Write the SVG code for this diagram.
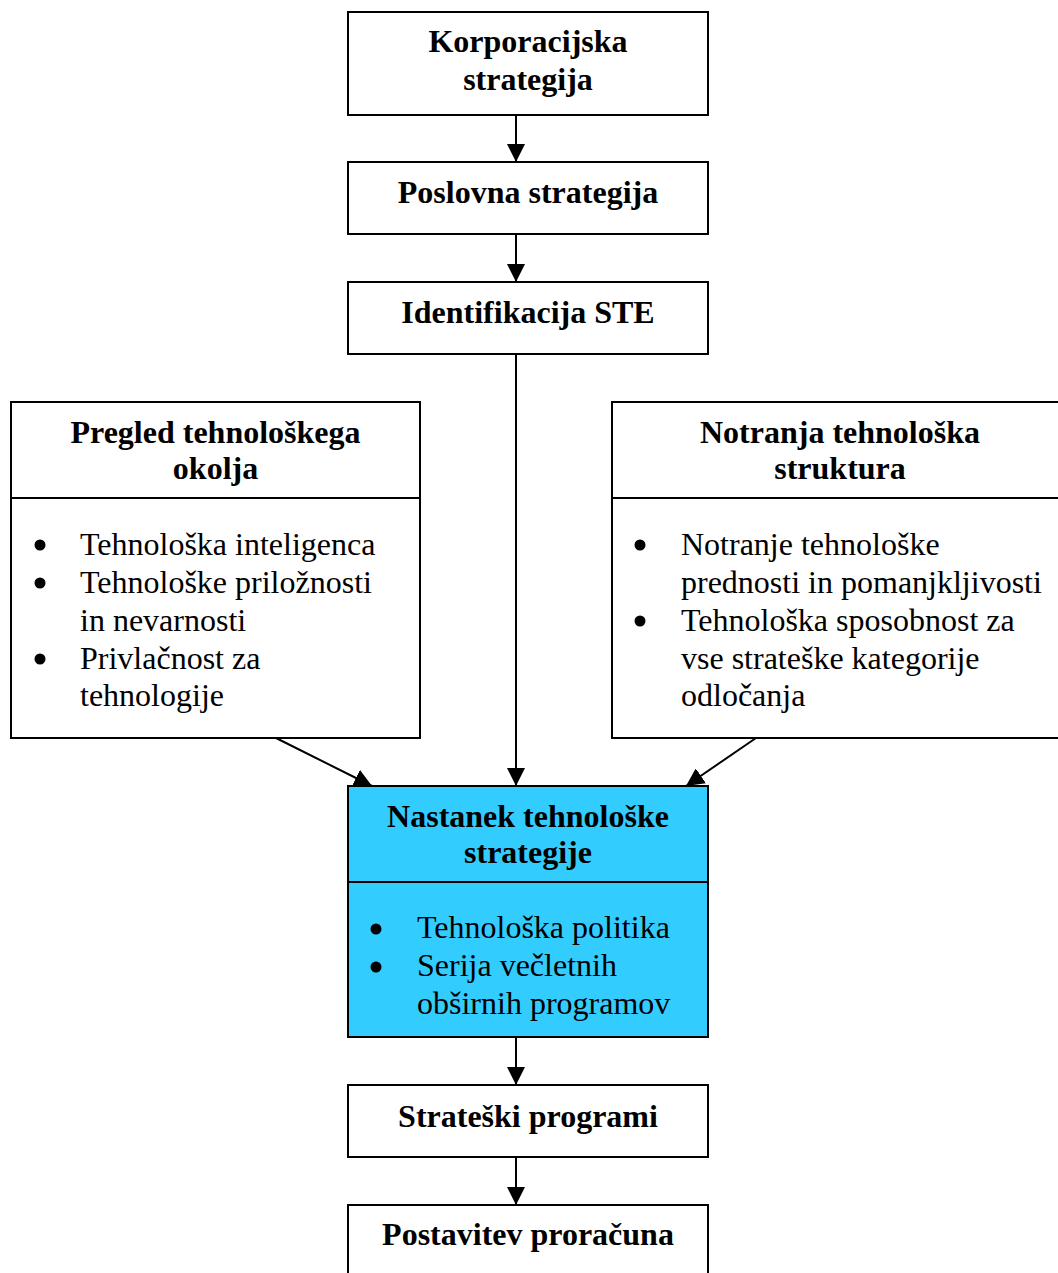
<svg xmlns="http://www.w3.org/2000/svg" width="1058" height="1273" viewBox="0 0 1058 1273">
  <style>
    .box { fill: #ffffff; stroke: #000000; stroke-width: 2; }
    .hl { fill: #33ccff; stroke: #000000; stroke-width: 2; }
    .div { stroke: #000000; stroke-width: 2; fill: none; }
    text { font-family: 'Liberation Serif', 'DejaVu Serif', serif; font-size: 32px; fill: #000000; }
    .b { font-weight: bold; text-anchor: middle; }
    .dot { fill: #000000; }
    .edge { stroke: #000000; stroke-width: 2; fill: none; marker-end: url(#arrow); }
  </style>
  <defs>
    <marker id="arrow" markerUnits="userSpaceOnUse" markerWidth="18" markerHeight="18" viewBox="0 0 16 16" refX="16" refY="8" orient="auto">
      <path d="M0,0 L16,8 L0,16 Z" fill="#000000"/>
    </marker>
  </defs>

  <g id="connectors">
    <line class="edge" x1="516" y1="115" x2="516" y2="162"/>
    <line class="edge" x1="516" y1="234" x2="516" y2="282"/>
    <line class="edge" x1="516" y1="354" x2="516" y2="786"/>
    <line class="edge" x1="276" y1="738" x2="372" y2="786"/>
    <line class="edge" x1="756" y1="738" x2="686" y2="786"/>
    <line class="edge" x1="516" y1="1037" x2="516" y2="1085"/>
    <line class="edge" x1="516" y1="1157" x2="516" y2="1205"/>
  </g>

  <g id="korporacijska">
    <rect class="box" x="348" y="12" width="360" height="103"/>
    <text class="b" x="528" y="52">Korporacijska</text>
    <text class="b" x="528" y="90">strategija</text>
  </g>

  <g id="poslovna">
    <rect class="box" x="348" y="162" width="360" height="72"/>
    <text class="b" x="528" y="203">Poslovna strategija</text>
  </g>

  <g id="identifikacija">
    <rect class="box" x="348" y="282" width="360" height="72"/>
    <text class="b" x="528" y="323">Identifikacija STE</text>
  </g>

  <g id="pregled">
    <rect class="box" x="11" y="402" width="409" height="336"/>
    <line class="div" x1="11" y1="498" x2="420" y2="498"/>
    <text class="b" x="215.5" y="443">Pregled tehnološkega</text>
    <text class="b" x="215.5" y="479">okolja</text>
    <circle class="dot" cx="40" cy="545" r="5.5"/>
    <text x="80" y="555">Tehnološka inteligenca</text>
    <circle class="dot" cx="40" cy="583" r="5.5"/>
    <text x="80" y="593">Tehnološke priložnosti</text>
    <text x="80" y="631">in nevarnosti</text>
    <circle class="dot" cx="40" cy="659" r="5.5"/>
    <text x="80" y="669">Privlačnost za</text>
    <text x="80" y="706">tehnologije</text>
  </g>

  <g id="notranja">
    <rect class="box" x="612" y="402" width="460" height="336"/>
    <line class="div" x1="612" y1="498" x2="1072" y2="498"/>
    <text class="b" x="840" y="443">Notranja tehnološka</text>
    <text class="b" x="840" y="479">struktura</text>
    <circle class="dot" cx="640" cy="545" r="5.5"/>
    <text x="681" y="555">Notranje tehnološke</text>
    <text x="681" y="593">prednosti in pomanjkljivosti</text>
    <circle class="dot" cx="640" cy="621" r="5.5"/>
    <text x="681" y="631">Tehnološka sposobnost za</text>
    <text x="681" y="669">vse strateške kategorije</text>
    <text x="681" y="706">odločanja</text>
  </g>

  <g id="nastanek">
    <rect class="hl" x="348" y="786" width="360" height="251"/>
    <line class="div" x1="348" y1="882" x2="708" y2="882"/>
    <text class="b" x="528" y="827">Nastanek tehnološke</text>
    <text class="b" x="528" y="863">strategije</text>
    <circle class="dot" cx="376" cy="929" r="5.5"/>
    <text x="417" y="938">Tehnološka politika</text>
    <circle class="dot" cx="376" cy="967" r="5.5"/>
    <text x="417" y="976">Serija večletnih</text>
    <text x="417" y="1014">obširnih programov</text>
  </g>

  <g id="strateski">
    <rect class="box" x="348" y="1085" width="360" height="72"/>
    <text class="b" x="528" y="1127">Strateški programi</text>
  </g>

  <g id="postavitev">
    <rect class="box" x="348" y="1205" width="360" height="80"/>
    <text class="b" x="528" y="1245">Postavitev proračuna</text>
  </g>
</svg>
